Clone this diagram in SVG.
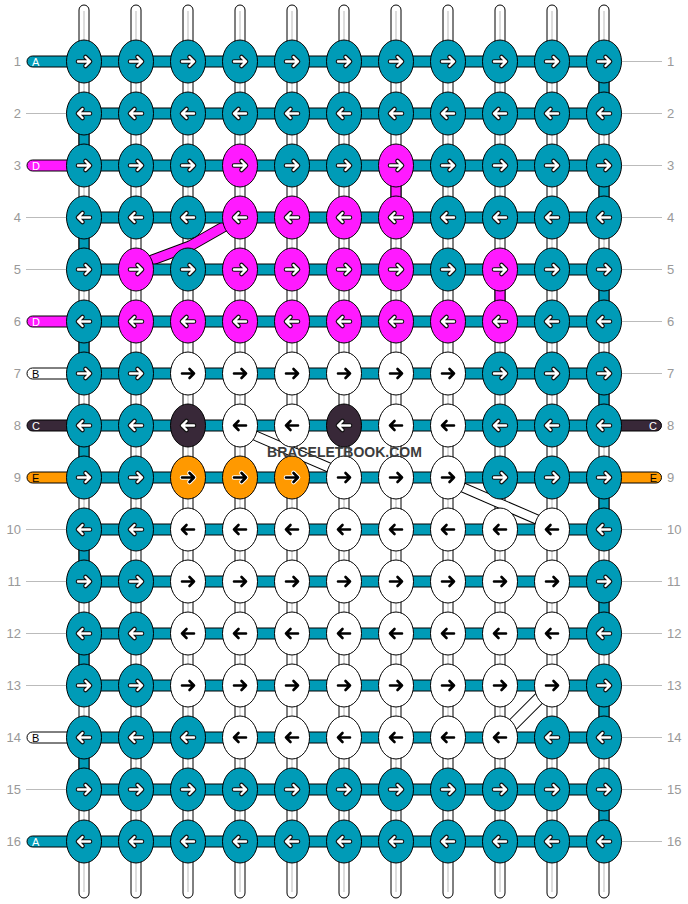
<svg xmlns="http://www.w3.org/2000/svg" xmlns:xlink="http://www.w3.org/1999/xlink" width="688" height="904" viewBox="0 0 688 904">
<style>
.bg{fill:#fff}
.vs{fill:#fff;stroke:#000;stroke-width:1}
.vc{stroke:#bbb;stroke-width:1}
.gt{fill:#009bb7;stroke:#000;stroke-width:1}
.gm{fill:#ff1aff;stroke:#000;stroke-width:1}
.hb{fill:#009bb7;stroke:#000;stroke-width:1}
.gl{stroke:#bbb;stroke-width:1}
.num{font-family:'Liberation Sans',Arial,sans-serif;font-size:13px;fill:#999}
.lt{font-family:'Liberation Sans',Arial,sans-serif;font-size:11px}
ellipse{stroke:#000;stroke-width:1}
.t{fill:#009bb7}.m{fill:#ff1aff}.w{fill:#fff}.k{fill:#382838}.o{fill:#f90}
.ao{fill:none;stroke:#111;stroke-width:4.6;stroke-linecap:round;stroke-linejoin:round}
.aw{fill:none;stroke:#fff;stroke-width:2.4;stroke-linecap:round;stroke-linejoin:round}
.ab{fill:none;stroke:#000;stroke-width:2.6;stroke-linecap:round;stroke-linejoin:round}
.aow{fill:none;stroke:#fff;stroke-width:4.6;stroke-linecap:round;stroke-linejoin:round}
.wm{font-family:'Liberation Sans',Arial,sans-serif;font-size:14px;font-weight:bold;fill:#3c3c3c}
</style>
<defs>
<path id="r" d="M-6,0H6M1.5,-4.5L6,0L1.5,4.5"/>
<path id="l" d="M6,0H-6M-1.5,-4.5L-6,0L-1.5,4.5"/>
<g id="rW"><use href="#r" class="ao"/><use href="#r" class="aw"/></g>
<g id="lW"><use href="#l" class="ao"/><use href="#l" class="aw"/></g>
<g id="rB"><use href="#r" class="ab"/></g>
<g id="lB"><use href="#l" class="ab"/></g>
<g id="rO"><use href="#r" class="aow"/><use href="#r" class="ab"/></g>
</defs>
<rect class="bg" x="0" y="0" width="688" height="904"/>

<g id="labels">
<g class="gl">
<line x1="26" y1="113.5" x2="67" y2="113.5"/><line x1="26" y1="217.5" x2="67" y2="217.5"/><line x1="26" y1="269.5" x2="67" y2="269.5"/>
<line x1="26" y1="529.5" x2="67" y2="529.5"/><line x1="26" y1="581.5" x2="67" y2="581.5"/><line x1="26" y1="633.5" x2="67" y2="633.5"/><line x1="26" y1="685.5" x2="67" y2="685.5"/><line x1="26" y1="789.5" x2="67" y2="789.5"/>
<line x1="621" y1="61.5" x2="662" y2="61.5"/><line x1="621" y1="113.5" x2="662" y2="113.5"/><line x1="621" y1="165.5" x2="662" y2="165.5"/><line x1="621" y1="217.5" x2="662" y2="217.5"/><line x1="621" y1="269.5" x2="662" y2="269.5"/><line x1="621" y1="321.5" x2="662" y2="321.5"/><line x1="621" y1="373.5" x2="662" y2="373.5"/>
<line x1="621" y1="529.5" x2="662" y2="529.5"/><line x1="621" y1="581.5" x2="662" y2="581.5"/><line x1="621" y1="633.5" x2="662" y2="633.5"/><line x1="621" y1="685.5" x2="662" y2="685.5"/><line x1="621" y1="737.5" x2="662" y2="737.5"/><line x1="621" y1="789.5" x2="662" y2="789.5"/><line x1="621" y1="841.5" x2="662" y2="841.5"/>
</g>
<g class="num" text-anchor="end">
<text x="21" y="66">1</text><text x="21" y="118">2</text><text x="21" y="170">3</text><text x="21" y="222">4</text><text x="21" y="274">5</text><text x="21" y="326">6</text><text x="21" y="378">7</text><text x="21" y="430">8</text><text x="21" y="482">9</text><text x="21" y="534">10</text><text x="21" y="586">11</text><text x="21" y="638">12</text><text x="21" y="690">13</text><text x="21" y="742">14</text><text x="21" y="794">15</text><text x="21" y="846">16</text>
</g>
<g class="num">
<text x="667" y="66">1</text><text x="667" y="118">2</text><text x="667" y="170">3</text><text x="667" y="222">4</text><text x="667" y="274">5</text><text x="667" y="326">6</text><text x="667" y="378">7</text><text x="667" y="430">8</text><text x="667" y="482">9</text><text x="667" y="534">10</text><text x="667" y="586">11</text><text x="667" y="638">12</text><text x="667" y="690">13</text><text x="667" y="742">14</text><text x="667" y="794">15</text><text x="667" y="846">16</text>
</g>
</g>

<g id="connectors">
<g id="vertical-threads">
<rect class="vs" x="79" y="5" width="10" height="893" rx="5"/><rect class="vs" x="131" y="5" width="10" height="893" rx="5"/><rect class="vs" x="183" y="5" width="10" height="893" rx="5"/><rect class="vs" x="235" y="5" width="10" height="893" rx="5"/><rect class="vs" x="287" y="5" width="10" height="893" rx="5"/><rect class="vs" x="339" y="5" width="10" height="893" rx="5"/><rect class="vs" x="391" y="5" width="10" height="893" rx="5"/><rect class="vs" x="443" y="5" width="10" height="893" rx="5"/><rect class="vs" x="495" y="5" width="10" height="893" rx="5"/><rect class="vs" x="547" y="5" width="10" height="893" rx="5"/><rect class="vs" x="599" y="5" width="10" height="893" rx="5"/>
<g class="vc">
<line x1="84" y1="11" x2="84" y2="892"/><line x1="136" y1="11" x2="136" y2="892"/><line x1="188" y1="11" x2="188" y2="892"/><line x1="240" y1="11" x2="240" y2="892"/><line x1="292" y1="11" x2="292" y2="892"/><line x1="344" y1="11" x2="344" y2="892"/><line x1="396" y1="11" x2="396" y2="892"/><line x1="448" y1="11" x2="448" y2="892"/><line x1="500" y1="11" x2="500" y2="892"/><line x1="552" y1="11" x2="552" y2="892"/><line x1="604" y1="11" x2="604" y2="892"/>
</g>
<g class="gt">
<rect x="79" y="130.5" width="10" height="18"/><rect x="79" y="234.5" width="10" height="18"/><rect x="79" y="338.5" width="10" height="18"/><rect x="79" y="442.5" width="10" height="18"/><rect x="79" y="546.5" width="10" height="18"/><rect x="79" y="650.5" width="10" height="18"/><rect x="79" y="754.5" width="10" height="18"/>
<rect x="599" y="78.5" width="10" height="18"/><rect x="599" y="182.5" width="10" height="18"/><rect x="599" y="286.5" width="10" height="18"/><rect x="599" y="390.5" width="10" height="18"/><rect x="599" y="494.5" width="10" height="18"/><rect x="599" y="598.5" width="10" height="18"/><rect x="599" y="702.5" width="10" height="18"/><rect x="599" y="806.5" width="10" height="18"/>
</g>
<g class="gm">
<rect x="391" y="182.5" width="10" height="18"/><rect x="495" y="286.5" width="10" height="18"/>
</g>
</g>
<g id="diagonals" fill="none" stroke-linecap="butt" stroke-linejoin="round">
<polyline points="136,266 190,246 240,217.5" stroke="#000" stroke-width="11"/>
<polyline points="136,266 190,246 240,217.5" stroke="#ff1aff" stroke-width="9"/>
<line x1="240" y1="429" x2="344" y2="474" stroke="#000" stroke-width="10.4"/>
<line x1="240" y1="429" x2="344" y2="474" stroke="#fff" stroke-width="8.4"/>
<line x1="448" y1="481" x2="552" y2="526" stroke="#000" stroke-width="10.4"/>
<line x1="448" y1="481" x2="552" y2="526" stroke="#fff" stroke-width="8.4"/>
<line x1="552" y1="685.5" x2="500" y2="737.5" stroke="#000" stroke-width="12.5"/>
<line x1="552" y1="685.5" x2="500" y2="737.5" stroke="#fff" stroke-width="10.5"/>
</g>
<g id="row-threads">
<rect class="hb" x="84" y="56" width="520" height="11"/><rect class="hb" x="84" y="108" width="520" height="11"/><rect class="hb" x="84" y="160" width="520" height="11"/><rect class="hb" x="84" y="212" width="520" height="11"/><rect class="hb" x="84" y="264" width="520" height="11"/><rect class="hb" x="84" y="316" width="520" height="11"/><rect class="hb" x="84" y="368" width="520" height="11"/><rect class="hb" x="84" y="420" width="520" height="11"/><rect class="hb" x="84" y="472" width="520" height="11"/><rect class="hb" x="84" y="524" width="520" height="11"/><rect class="hb" x="84" y="576" width="520" height="11"/><rect class="hb" x="84" y="628" width="520" height="11"/><rect class="hb" x="84" y="680" width="520" height="11"/><rect class="hb" x="84" y="732" width="520" height="11"/><rect class="hb" x="84" y="784" width="520" height="11"/><rect class="hb" x="84" y="836" width="520" height="11"/>
</g>
<g id="tails" stroke="#000" stroke-width="1">
<rect x="27" y="56" width="62" height="11" rx="5.5" fill="#009bb7"/>
<rect x="27" y="160" width="62" height="11" rx="5.5" fill="#ff1aff"/>
<rect x="27" y="316" width="62" height="11" rx="5.5" fill="#ff1aff"/>
<rect x="27" y="368" width="62" height="11" rx="5.5" fill="#fff"/>
<rect x="27" y="420" width="62" height="11" rx="5.5" fill="#382838"/>
<rect x="27" y="472" width="62" height="11" rx="5.5" fill="#f90"/>
<rect x="27" y="732" width="62" height="11" rx="5.5" fill="#fff"/>
<rect x="27" y="836" width="62" height="11" rx="5.5" fill="#009bb7"/>
<rect x="599" y="420" width="62.5" height="11" rx="5.5" fill="#382838"/>
<rect x="599" y="472" width="62.5" height="11" rx="5.5" fill="#f90"/>
</g>
<g id="tail-letters" class="lt">
<text x="32" y="65.5" fill="#fff">A</text>
<text x="32" y="169.5" fill="#fff">D</text>
<text x="32" y="325.5" fill="#fff">D</text>
<text x="32" y="377.5" fill="#000">B</text>
<text x="32" y="429.5" fill="#fff">C</text>
<text x="32" y="481.5" fill="#000">E</text>
<text x="32" y="741.5" fill="#000">B</text>
<text x="32" y="845.5" fill="#fff">A</text>
<text x="657" y="429.5" fill="#fff" text-anchor="end">C</text>
<text x="657" y="481.5" fill="#000" text-anchor="end">E</text>
</g>
</g>

<g id="knots">
<g id="k1-1"><ellipse class="t" cx="84" cy="61.5" rx="17.5" ry="21.5"/><use href="#rW" x="84" y="61.5"/></g>
<g id="k1-2"><ellipse class="t" cx="136" cy="61.5" rx="17.5" ry="21.5"/><use href="#rW" x="136" y="61.5"/></g>
<g id="k1-3"><ellipse class="t" cx="188" cy="61.5" rx="17.5" ry="21.5"/><use href="#rW" x="188" y="61.5"/></g>
<g id="k1-4"><ellipse class="t" cx="240" cy="61.5" rx="17.5" ry="21.5"/><use href="#rW" x="240" y="61.5"/></g>
<g id="k1-5"><ellipse class="t" cx="292" cy="61.5" rx="17.5" ry="21.5"/><use href="#rW" x="292" y="61.5"/></g>
<g id="k1-6"><ellipse class="t" cx="344" cy="61.5" rx="17.5" ry="21.5"/><use href="#rW" x="344" y="61.5"/></g>
<g id="k1-7"><ellipse class="t" cx="396" cy="61.5" rx="17.5" ry="21.5"/><use href="#rW" x="396" y="61.5"/></g>
<g id="k1-8"><ellipse class="t" cx="448" cy="61.5" rx="17.5" ry="21.5"/><use href="#rW" x="448" y="61.5"/></g>
<g id="k1-9"><ellipse class="t" cx="500" cy="61.5" rx="17.5" ry="21.5"/><use href="#rW" x="500" y="61.5"/></g>
<g id="k1-10"><ellipse class="t" cx="552" cy="61.5" rx="17.5" ry="21.5"/><use href="#rW" x="552" y="61.5"/></g>
<g id="k1-11"><ellipse class="t" cx="604" cy="61.5" rx="17.5" ry="21.5"/><use href="#rW" x="604" y="61.5"/></g>

<g id="k2-1"><ellipse class="t" cx="84" cy="113.5" rx="17.5" ry="21.5"/><use href="#lW" x="84" y="113.5"/></g>
<g id="k2-2"><ellipse class="t" cx="136" cy="113.5" rx="17.5" ry="21.5"/><use href="#lW" x="136" y="113.5"/></g>
<g id="k2-3"><ellipse class="t" cx="188" cy="113.5" rx="17.5" ry="21.5"/><use href="#lW" x="188" y="113.5"/></g>
<g id="k2-4"><ellipse class="t" cx="240" cy="113.5" rx="17.5" ry="21.5"/><use href="#lW" x="240" y="113.5"/></g>
<g id="k2-5"><ellipse class="t" cx="292" cy="113.5" rx="17.5" ry="21.5"/><use href="#lW" x="292" y="113.5"/></g>
<g id="k2-6"><ellipse class="t" cx="344" cy="113.5" rx="17.5" ry="21.5"/><use href="#lW" x="344" y="113.5"/></g>
<g id="k2-7"><ellipse class="t" cx="396" cy="113.5" rx="17.5" ry="21.5"/><use href="#lW" x="396" y="113.5"/></g>
<g id="k2-8"><ellipse class="t" cx="448" cy="113.5" rx="17.5" ry="21.5"/><use href="#lW" x="448" y="113.5"/></g>
<g id="k2-9"><ellipse class="t" cx="500" cy="113.5" rx="17.5" ry="21.5"/><use href="#lW" x="500" y="113.5"/></g>
<g id="k2-10"><ellipse class="t" cx="552" cy="113.5" rx="17.5" ry="21.5"/><use href="#lW" x="552" y="113.5"/></g>
<g id="k2-11"><ellipse class="t" cx="604" cy="113.5" rx="17.5" ry="21.5"/><use href="#lW" x="604" y="113.5"/></g>

<g id="k3-1"><ellipse class="t" cx="84" cy="165.5" rx="17.5" ry="21.5"/><use href="#rW" x="84" y="165.5"/></g>
<g id="k3-2"><ellipse class="t" cx="136" cy="165.5" rx="17.5" ry="21.5"/><use href="#rW" x="136" y="165.5"/></g>
<g id="k3-3"><ellipse class="t" cx="188" cy="165.5" rx="17.5" ry="21.5"/><use href="#rW" x="188" y="165.5"/></g>
<g id="k3-4"><ellipse class="m" cx="240" cy="165.5" rx="17.5" ry="21.5"/><use href="#rW" x="240" y="165.5"/></g>
<g id="k3-5"><ellipse class="t" cx="292" cy="165.5" rx="17.5" ry="21.5"/><use href="#rW" x="292" y="165.5"/></g>
<g id="k3-6"><ellipse class="t" cx="344" cy="165.5" rx="17.5" ry="21.5"/><use href="#rW" x="344" y="165.5"/></g>
<g id="k3-7"><ellipse class="m" cx="396" cy="165.5" rx="17.5" ry="21.5"/><use href="#rW" x="396" y="165.5"/></g>
<g id="k3-8"><ellipse class="t" cx="448" cy="165.5" rx="17.5" ry="21.5"/><use href="#rW" x="448" y="165.5"/></g>
<g id="k3-9"><ellipse class="t" cx="500" cy="165.5" rx="17.5" ry="21.5"/><use href="#rW" x="500" y="165.5"/></g>
<g id="k3-10"><ellipse class="t" cx="552" cy="165.5" rx="17.5" ry="21.5"/><use href="#rW" x="552" y="165.5"/></g>
<g id="k3-11"><ellipse class="t" cx="604" cy="165.5" rx="17.5" ry="21.5"/><use href="#rW" x="604" y="165.5"/></g>

<g id="k4-1"><ellipse class="t" cx="84" cy="217.5" rx="17.5" ry="21.5"/><use href="#lW" x="84" y="217.5"/></g>
<g id="k4-2"><ellipse class="t" cx="136" cy="217.5" rx="17.5" ry="21.5"/><use href="#lW" x="136" y="217.5"/></g>
<g id="k4-3"><ellipse class="t" cx="188" cy="217.5" rx="17.5" ry="21.5"/><use href="#lW" x="188" y="217.5"/></g>
<g id="k4-4"><ellipse class="m" cx="240" cy="217.5" rx="17.5" ry="21.5"/><use href="#lW" x="240" y="217.5"/></g>
<g id="k4-5"><ellipse class="m" cx="292" cy="217.5" rx="17.5" ry="21.5"/><use href="#lW" x="292" y="217.5"/></g>
<g id="k4-6"><ellipse class="m" cx="344" cy="217.5" rx="17.5" ry="21.5"/><use href="#lW" x="344" y="217.5"/></g>
<g id="k4-7"><ellipse class="m" cx="396" cy="217.5" rx="17.5" ry="21.5"/><use href="#lW" x="396" y="217.5"/></g>
<g id="k4-8"><ellipse class="t" cx="448" cy="217.5" rx="17.5" ry="21.5"/><use href="#lW" x="448" y="217.5"/></g>
<g id="k4-9"><ellipse class="t" cx="500" cy="217.5" rx="17.5" ry="21.5"/><use href="#lW" x="500" y="217.5"/></g>
<g id="k4-10"><ellipse class="t" cx="552" cy="217.5" rx="17.5" ry="21.5"/><use href="#lW" x="552" y="217.5"/></g>
<g id="k4-11"><ellipse class="t" cx="604" cy="217.5" rx="17.5" ry="21.5"/><use href="#lW" x="604" y="217.5"/></g>

<g id="k5-1"><ellipse class="t" cx="84" cy="269.5" rx="17.5" ry="21.5"/><use href="#rW" x="84" y="269.5"/></g>
<g id="k5-2"><ellipse class="m" cx="136" cy="269.5" rx="17.5" ry="21.5"/><use href="#rW" x="136" y="269.5"/></g>
<g id="k5-3"><ellipse class="t" cx="188" cy="269.5" rx="17.5" ry="21.5"/><use href="#rW" x="188" y="269.5"/></g>
<g id="k5-4"><ellipse class="m" cx="240" cy="269.5" rx="17.5" ry="21.5"/><use href="#rW" x="240" y="269.5"/></g>
<g id="k5-5"><ellipse class="m" cx="292" cy="269.5" rx="17.5" ry="21.5"/><use href="#rW" x="292" y="269.5"/></g>
<g id="k5-6"><ellipse class="m" cx="344" cy="269.5" rx="17.5" ry="21.5"/><use href="#rW" x="344" y="269.5"/></g>
<g id="k5-7"><ellipse class="m" cx="396" cy="269.5" rx="17.5" ry="21.5"/><use href="#rW" x="396" y="269.5"/></g>
<g id="k5-8"><ellipse class="t" cx="448" cy="269.5" rx="17.5" ry="21.5"/><use href="#rW" x="448" y="269.5"/></g>
<g id="k5-9"><ellipse class="m" cx="500" cy="269.5" rx="17.5" ry="21.5"/><use href="#rW" x="500" y="269.5"/></g>
<g id="k5-10"><ellipse class="t" cx="552" cy="269.5" rx="17.5" ry="21.5"/><use href="#rW" x="552" y="269.5"/></g>
<g id="k5-11"><ellipse class="t" cx="604" cy="269.5" rx="17.5" ry="21.5"/><use href="#rW" x="604" y="269.5"/></g>

<g id="k6-1"><ellipse class="t" cx="84" cy="321.5" rx="17.5" ry="21.5"/><use href="#lW" x="84" y="321.5"/></g>
<g id="k6-2"><ellipse class="m" cx="136" cy="321.5" rx="17.5" ry="21.5"/><use href="#lW" x="136" y="321.5"/></g>
<g id="k6-3"><ellipse class="m" cx="188" cy="321.5" rx="17.5" ry="21.5"/><use href="#lW" x="188" y="321.5"/></g>
<g id="k6-4"><ellipse class="m" cx="240" cy="321.5" rx="17.5" ry="21.5"/><use href="#lW" x="240" y="321.5"/></g>
<g id="k6-5"><ellipse class="m" cx="292" cy="321.5" rx="17.5" ry="21.5"/><use href="#lW" x="292" y="321.5"/></g>
<g id="k6-6"><ellipse class="m" cx="344" cy="321.5" rx="17.5" ry="21.5"/><use href="#lW" x="344" y="321.5"/></g>
<g id="k6-7"><ellipse class="m" cx="396" cy="321.5" rx="17.5" ry="21.5"/><use href="#lW" x="396" y="321.5"/></g>
<g id="k6-8"><ellipse class="m" cx="448" cy="321.5" rx="17.5" ry="21.5"/><use href="#lW" x="448" y="321.5"/></g>
<g id="k6-9"><ellipse class="m" cx="500" cy="321.5" rx="17.5" ry="21.5"/><use href="#lW" x="500" y="321.5"/></g>
<g id="k6-10"><ellipse class="t" cx="552" cy="321.5" rx="17.5" ry="21.5"/><use href="#lW" x="552" y="321.5"/></g>
<g id="k6-11"><ellipse class="t" cx="604" cy="321.5" rx="17.5" ry="21.5"/><use href="#lW" x="604" y="321.5"/></g>

<g id="k7-1"><ellipse class="t" cx="84" cy="373.5" rx="17.5" ry="21.5"/><use href="#rW" x="84" y="373.5"/></g>
<g id="k7-2"><ellipse class="t" cx="136" cy="373.5" rx="17.5" ry="21.5"/><use href="#rW" x="136" y="373.5"/></g>
<g id="k7-3"><ellipse class="w" cx="188" cy="373.5" rx="17.5" ry="21.5"/><use href="#rB" x="188" y="373.5"/></g>
<g id="k7-4"><ellipse class="w" cx="240" cy="373.5" rx="17.5" ry="21.5"/><use href="#rB" x="240" y="373.5"/></g>
<g id="k7-5"><ellipse class="w" cx="292" cy="373.5" rx="17.5" ry="21.5"/><use href="#rB" x="292" y="373.5"/></g>
<g id="k7-6"><ellipse class="w" cx="344" cy="373.5" rx="17.5" ry="21.5"/><use href="#rB" x="344" y="373.5"/></g>
<g id="k7-7"><ellipse class="w" cx="396" cy="373.5" rx="17.5" ry="21.5"/><use href="#rB" x="396" y="373.5"/></g>
<g id="k7-8"><ellipse class="w" cx="448" cy="373.5" rx="17.5" ry="21.5"/><use href="#rB" x="448" y="373.5"/></g>
<g id="k7-9"><ellipse class="t" cx="500" cy="373.5" rx="17.5" ry="21.5"/><use href="#rW" x="500" y="373.5"/></g>
<g id="k7-10"><ellipse class="t" cx="552" cy="373.5" rx="17.5" ry="21.5"/><use href="#rW" x="552" y="373.5"/></g>
<g id="k7-11"><ellipse class="t" cx="604" cy="373.5" rx="17.5" ry="21.5"/><use href="#rW" x="604" y="373.5"/></g>

<g id="k8-1"><ellipse class="t" cx="84" cy="425.5" rx="17.5" ry="21.5"/><use href="#lW" x="84" y="425.5"/></g>
<g id="k8-2"><ellipse class="t" cx="136" cy="425.5" rx="17.5" ry="21.5"/><use href="#lW" x="136" y="425.5"/></g>
<g id="k8-3"><ellipse class="k" cx="188" cy="425.5" rx="17.5" ry="21.5"/><use href="#lW" x="188" y="425.5"/></g>
<g id="k8-4"><ellipse class="w" cx="240" cy="425.5" rx="17.5" ry="21.5"/><use href="#lB" x="240" y="425.5"/></g>
<g id="k8-5"><ellipse class="w" cx="292" cy="425.5" rx="17.5" ry="21.5"/><use href="#lB" x="292" y="425.5"/></g>
<g id="k8-6"><ellipse class="k" cx="344" cy="425.5" rx="17.5" ry="21.5"/><use href="#lW" x="344" y="425.5"/></g>
<g id="k8-7"><ellipse class="w" cx="396" cy="425.5" rx="17.5" ry="21.5"/><use href="#lB" x="396" y="425.5"/></g>
<g id="k8-8"><ellipse class="w" cx="448" cy="425.5" rx="17.5" ry="21.5"/><use href="#lB" x="448" y="425.5"/></g>
<g id="k8-9"><ellipse class="t" cx="500" cy="425.5" rx="17.5" ry="21.5"/><use href="#lW" x="500" y="425.5"/></g>
<g id="k8-10"><ellipse class="t" cx="552" cy="425.5" rx="17.5" ry="21.5"/><use href="#lW" x="552" y="425.5"/></g>
<g id="k8-11"><ellipse class="t" cx="604" cy="425.5" rx="17.5" ry="21.5"/><use href="#lW" x="604" y="425.5"/></g>

<g id="k9-1"><ellipse class="t" cx="84" cy="477.5" rx="17.5" ry="21.5"/><use href="#rW" x="84" y="477.5"/></g>
<g id="k9-2"><ellipse class="t" cx="136" cy="477.5" rx="17.5" ry="21.5"/><use href="#rW" x="136" y="477.5"/></g>
<g id="k9-3"><ellipse class="o" cx="188" cy="477.5" rx="17.5" ry="21.5"/><use href="#rO" x="188" y="477.5"/></g>
<g id="k9-4"><ellipse class="o" cx="240" cy="477.5" rx="17.5" ry="21.5"/><use href="#rO" x="240" y="477.5"/></g>
<g id="k9-5"><ellipse class="o" cx="292" cy="477.5" rx="17.5" ry="21.5"/><use href="#rO" x="292" y="477.5"/></g>
<g id="k9-6"><ellipse class="w" cx="344" cy="477.5" rx="17.5" ry="21.5"/><use href="#rB" x="344" y="477.5"/></g>
<g id="k9-7"><ellipse class="w" cx="396" cy="477.5" rx="17.5" ry="21.5"/><use href="#rB" x="396" y="477.5"/></g>
<g id="k9-8"><ellipse class="w" cx="448" cy="477.5" rx="17.5" ry="21.5"/><use href="#rB" x="448" y="477.5"/></g>
<g id="k9-9"><ellipse class="t" cx="500" cy="477.5" rx="17.5" ry="21.5"/><use href="#rW" x="500" y="477.5"/></g>
<g id="k9-10"><ellipse class="t" cx="552" cy="477.5" rx="17.5" ry="21.5"/><use href="#rW" x="552" y="477.5"/></g>
<g id="k9-11"><ellipse class="t" cx="604" cy="477.5" rx="17.5" ry="21.5"/><use href="#rW" x="604" y="477.5"/></g>

<g id="k10-1"><ellipse class="t" cx="84" cy="529.5" rx="17.5" ry="21.5"/><use href="#lW" x="84" y="529.5"/></g>
<g id="k10-2"><ellipse class="t" cx="136" cy="529.5" rx="17.5" ry="21.5"/><use href="#lW" x="136" y="529.5"/></g>
<g id="k10-3"><ellipse class="w" cx="188" cy="529.5" rx="17.5" ry="21.5"/><use href="#lB" x="188" y="529.5"/></g>
<g id="k10-4"><ellipse class="w" cx="240" cy="529.5" rx="17.5" ry="21.5"/><use href="#lB" x="240" y="529.5"/></g>
<g id="k10-5"><ellipse class="w" cx="292" cy="529.5" rx="17.5" ry="21.5"/><use href="#lB" x="292" y="529.5"/></g>
<g id="k10-6"><ellipse class="w" cx="344" cy="529.5" rx="17.5" ry="21.5"/><use href="#lB" x="344" y="529.5"/></g>
<g id="k10-7"><ellipse class="w" cx="396" cy="529.5" rx="17.5" ry="21.5"/><use href="#lB" x="396" y="529.5"/></g>
<g id="k10-8"><ellipse class="w" cx="448" cy="529.5" rx="17.5" ry="21.5"/><use href="#lB" x="448" y="529.5"/></g>
<g id="k10-9"><ellipse class="w" cx="500" cy="529.5" rx="17.5" ry="21.5"/><use href="#lB" x="500" y="529.5"/></g>
<g id="k10-10"><ellipse class="w" cx="552" cy="529.5" rx="17.5" ry="21.5"/><use href="#lB" x="552" y="529.5"/></g>
<g id="k10-11"><ellipse class="t" cx="604" cy="529.5" rx="17.5" ry="21.5"/><use href="#lW" x="604" y="529.5"/></g>

<g id="k11-1"><ellipse class="t" cx="84" cy="581.5" rx="17.5" ry="21.5"/><use href="#rW" x="84" y="581.5"/></g>
<g id="k11-2"><ellipse class="t" cx="136" cy="581.5" rx="17.5" ry="21.5"/><use href="#rW" x="136" y="581.5"/></g>
<g id="k11-3"><ellipse class="w" cx="188" cy="581.5" rx="17.5" ry="21.5"/><use href="#rB" x="188" y="581.5"/></g>
<g id="k11-4"><ellipse class="w" cx="240" cy="581.5" rx="17.5" ry="21.5"/><use href="#rB" x="240" y="581.5"/></g>
<g id="k11-5"><ellipse class="w" cx="292" cy="581.5" rx="17.5" ry="21.5"/><use href="#rB" x="292" y="581.5"/></g>
<g id="k11-6"><ellipse class="w" cx="344" cy="581.5" rx="17.5" ry="21.5"/><use href="#rB" x="344" y="581.5"/></g>
<g id="k11-7"><ellipse class="w" cx="396" cy="581.5" rx="17.5" ry="21.5"/><use href="#rB" x="396" y="581.5"/></g>
<g id="k11-8"><ellipse class="w" cx="448" cy="581.5" rx="17.5" ry="21.5"/><use href="#rB" x="448" y="581.5"/></g>
<g id="k11-9"><ellipse class="w" cx="500" cy="581.5" rx="17.5" ry="21.5"/><use href="#rB" x="500" y="581.5"/></g>
<g id="k11-10"><ellipse class="w" cx="552" cy="581.5" rx="17.5" ry="21.5"/><use href="#rB" x="552" y="581.5"/></g>
<g id="k11-11"><ellipse class="t" cx="604" cy="581.5" rx="17.5" ry="21.5"/><use href="#rW" x="604" y="581.5"/></g>

<g id="k12-1"><ellipse class="t" cx="84" cy="633.5" rx="17.5" ry="21.5"/><use href="#lW" x="84" y="633.5"/></g>
<g id="k12-2"><ellipse class="t" cx="136" cy="633.5" rx="17.5" ry="21.5"/><use href="#lW" x="136" y="633.5"/></g>
<g id="k12-3"><ellipse class="w" cx="188" cy="633.5" rx="17.5" ry="21.5"/><use href="#lB" x="188" y="633.5"/></g>
<g id="k12-4"><ellipse class="w" cx="240" cy="633.5" rx="17.5" ry="21.5"/><use href="#lB" x="240" y="633.5"/></g>
<g id="k12-5"><ellipse class="w" cx="292" cy="633.5" rx="17.5" ry="21.5"/><use href="#lB" x="292" y="633.5"/></g>
<g id="k12-6"><ellipse class="w" cx="344" cy="633.5" rx="17.5" ry="21.5"/><use href="#lB" x="344" y="633.5"/></g>
<g id="k12-7"><ellipse class="w" cx="396" cy="633.5" rx="17.5" ry="21.5"/><use href="#lB" x="396" y="633.5"/></g>
<g id="k12-8"><ellipse class="w" cx="448" cy="633.5" rx="17.5" ry="21.5"/><use href="#lB" x="448" y="633.5"/></g>
<g id="k12-9"><ellipse class="w" cx="500" cy="633.5" rx="17.5" ry="21.5"/><use href="#lB" x="500" y="633.5"/></g>
<g id="k12-10"><ellipse class="w" cx="552" cy="633.5" rx="17.5" ry="21.5"/><use href="#lB" x="552" y="633.5"/></g>
<g id="k12-11"><ellipse class="t" cx="604" cy="633.5" rx="17.5" ry="21.5"/><use href="#lW" x="604" y="633.5"/></g>

<g id="k13-1"><ellipse class="t" cx="84" cy="685.5" rx="17.5" ry="21.5"/><use href="#rW" x="84" y="685.5"/></g>
<g id="k13-2"><ellipse class="t" cx="136" cy="685.5" rx="17.5" ry="21.5"/><use href="#rW" x="136" y="685.5"/></g>
<g id="k13-3"><ellipse class="w" cx="188" cy="685.5" rx="17.5" ry="21.5"/><use href="#rB" x="188" y="685.5"/></g>
<g id="k13-4"><ellipse class="w" cx="240" cy="685.5" rx="17.5" ry="21.5"/><use href="#rB" x="240" y="685.5"/></g>
<g id="k13-5"><ellipse class="w" cx="292" cy="685.5" rx="17.5" ry="21.5"/><use href="#rB" x="292" y="685.5"/></g>
<g id="k13-6"><ellipse class="w" cx="344" cy="685.5" rx="17.5" ry="21.5"/><use href="#rB" x="344" y="685.5"/></g>
<g id="k13-7"><ellipse class="w" cx="396" cy="685.5" rx="17.5" ry="21.5"/><use href="#rB" x="396" y="685.5"/></g>
<g id="k13-8"><ellipse class="w" cx="448" cy="685.5" rx="17.5" ry="21.5"/><use href="#rB" x="448" y="685.5"/></g>
<g id="k13-9"><ellipse class="w" cx="500" cy="685.5" rx="17.5" ry="21.5"/><use href="#rB" x="500" y="685.5"/></g>
<g id="k13-10"><ellipse class="w" cx="552" cy="685.5" rx="17.5" ry="21.5"/><use href="#rB" x="552" y="685.5"/></g>
<g id="k13-11"><ellipse class="t" cx="604" cy="685.5" rx="17.5" ry="21.5"/><use href="#rW" x="604" y="685.5"/></g>

<g id="k14-1"><ellipse class="t" cx="84" cy="737.5" rx="17.5" ry="21.5"/><use href="#lW" x="84" y="737.5"/></g>
<g id="k14-2"><ellipse class="t" cx="136" cy="737.5" rx="17.5" ry="21.5"/><use href="#lW" x="136" y="737.5"/></g>
<g id="k14-3"><ellipse class="t" cx="188" cy="737.5" rx="17.5" ry="21.5"/><use href="#lW" x="188" y="737.5"/></g>
<g id="k14-4"><ellipse class="w" cx="240" cy="737.5" rx="17.5" ry="21.5"/><use href="#lB" x="240" y="737.5"/></g>
<g id="k14-5"><ellipse class="w" cx="292" cy="737.5" rx="17.5" ry="21.5"/><use href="#lB" x="292" y="737.5"/></g>
<g id="k14-6"><ellipse class="w" cx="344" cy="737.5" rx="17.5" ry="21.5"/><use href="#lB" x="344" y="737.5"/></g>
<g id="k14-7"><ellipse class="w" cx="396" cy="737.5" rx="17.5" ry="21.5"/><use href="#lB" x="396" y="737.5"/></g>
<g id="k14-8"><ellipse class="w" cx="448" cy="737.5" rx="17.5" ry="21.5"/><use href="#lB" x="448" y="737.5"/></g>
<g id="k14-9"><ellipse class="w" cx="500" cy="737.5" rx="17.5" ry="21.5"/><use href="#lB" x="500" y="737.5"/></g>
<g id="k14-10"><ellipse class="t" cx="552" cy="737.5" rx="17.5" ry="21.5"/><use href="#lW" x="552" y="737.5"/></g>
<g id="k14-11"><ellipse class="t" cx="604" cy="737.5" rx="17.5" ry="21.5"/><use href="#lW" x="604" y="737.5"/></g>

<g id="k15-1"><ellipse class="t" cx="84" cy="789.5" rx="17.5" ry="21.5"/><use href="#rW" x="84" y="789.5"/></g>
<g id="k15-2"><ellipse class="t" cx="136" cy="789.5" rx="17.5" ry="21.5"/><use href="#rW" x="136" y="789.5"/></g>
<g id="k15-3"><ellipse class="t" cx="188" cy="789.5" rx="17.5" ry="21.5"/><use href="#rW" x="188" y="789.5"/></g>
<g id="k15-4"><ellipse class="t" cx="240" cy="789.5" rx="17.5" ry="21.5"/><use href="#rW" x="240" y="789.5"/></g>
<g id="k15-5"><ellipse class="t" cx="292" cy="789.5" rx="17.5" ry="21.5"/><use href="#rW" x="292" y="789.5"/></g>
<g id="k15-6"><ellipse class="t" cx="344" cy="789.5" rx="17.5" ry="21.5"/><use href="#rW" x="344" y="789.5"/></g>
<g id="k15-7"><ellipse class="t" cx="396" cy="789.5" rx="17.5" ry="21.5"/><use href="#rW" x="396" y="789.5"/></g>
<g id="k15-8"><ellipse class="t" cx="448" cy="789.5" rx="17.5" ry="21.5"/><use href="#rW" x="448" y="789.5"/></g>
<g id="k15-9"><ellipse class="t" cx="500" cy="789.5" rx="17.5" ry="21.5"/><use href="#rW" x="500" y="789.5"/></g>
<g id="k15-10"><ellipse class="t" cx="552" cy="789.5" rx="17.5" ry="21.5"/><use href="#rW" x="552" y="789.5"/></g>
<g id="k15-11"><ellipse class="t" cx="604" cy="789.5" rx="17.5" ry="21.5"/><use href="#rW" x="604" y="789.5"/></g>

<g id="k16-1"><ellipse class="t" cx="84" cy="841.5" rx="17.5" ry="21.5"/><use href="#lW" x="84" y="841.5"/></g>
<g id="k16-2"><ellipse class="t" cx="136" cy="841.5" rx="17.5" ry="21.5"/><use href="#lW" x="136" y="841.5"/></g>
<g id="k16-3"><ellipse class="t" cx="188" cy="841.5" rx="17.5" ry="21.5"/><use href="#lW" x="188" y="841.5"/></g>
<g id="k16-4"><ellipse class="t" cx="240" cy="841.5" rx="17.5" ry="21.5"/><use href="#lW" x="240" y="841.5"/></g>
<g id="k16-5"><ellipse class="t" cx="292" cy="841.5" rx="17.5" ry="21.5"/><use href="#lW" x="292" y="841.5"/></g>
<g id="k16-6"><ellipse class="t" cx="344" cy="841.5" rx="17.5" ry="21.5"/><use href="#lW" x="344" y="841.5"/></g>
<g id="k16-7"><ellipse class="t" cx="396" cy="841.5" rx="17.5" ry="21.5"/><use href="#lW" x="396" y="841.5"/></g>
<g id="k16-8"><ellipse class="t" cx="448" cy="841.5" rx="17.5" ry="21.5"/><use href="#lW" x="448" y="841.5"/></g>
<g id="k16-9"><ellipse class="t" cx="500" cy="841.5" rx="17.5" ry="21.5"/><use href="#lW" x="500" y="841.5"/></g>
<g id="k16-10"><ellipse class="t" cx="552" cy="841.5" rx="17.5" ry="21.5"/><use href="#lW" x="552" y="841.5"/></g>
<g id="k16-11"><ellipse class="t" cx="604" cy="841.5" rx="17.5" ry="21.5"/><use href="#lW" x="604" y="841.5"/></g>
</g>

<text id="watermark" class="wm" x="344.5" y="457" text-anchor="middle">BRACELETBOOK.COM</text>
</svg>
